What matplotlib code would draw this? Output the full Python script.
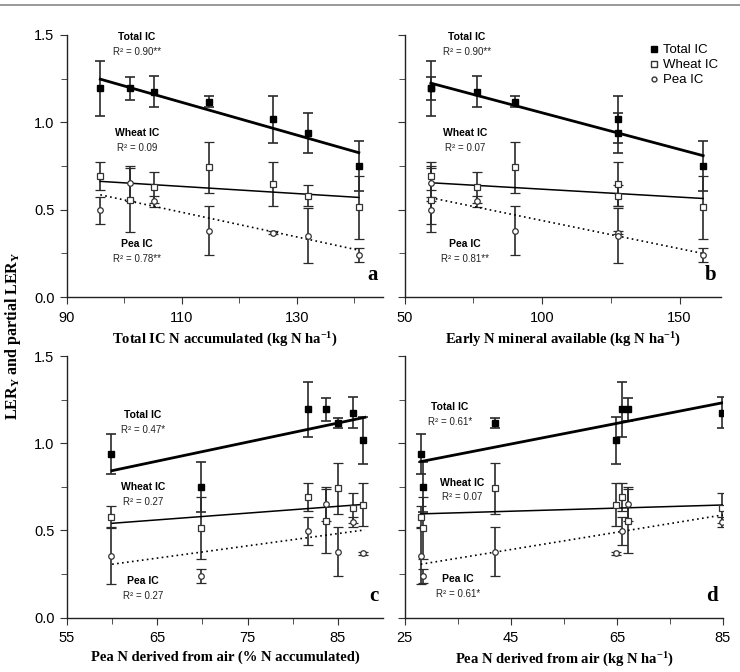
import numpy as np
import matplotlib.pyplot as plt
from matplotlib.lines import Line2D

plt.rcParams['font.family'] = ['Liberation Sans', 'DejaVu Sans']
plt.rcParams['mathtext.fontset'] = 'custom'
plt.rcParams['mathtext.rm'] = 'Liberation Serif:bold'
plt.rcParams['mathtext.bf'] = 'Liberation Serif:bold'
plt.rcParams['mathtext.it'] = 'Liberation Serif:bold:italic'

# seven intercrop treatments, same order in every panel
total = [1.195, 1.195, 1.176, 1.118, 1.017, 0.937, 0.751]
total_err = [0.157, 0.065, 0.09, 0.03, 0.135, 0.115, 0.143]
wheat = [0.694, 0.555, 0.628, 0.742, 0.648, 0.579, 0.514]
wheat_err = [0.08, 0.185, 0.088, 0.145, 0.125, 0.06, 0.18]
pea = [0.497, 0.652, 0.548, 0.379, 0.369, 0.352, 0.240]
pea_err = [0.078, 0.10, 0.03, 0.14, 0.01, 0.16, 0.04]

# x variables
x_n_accum = [95.8, 100.9, 105.1, 114.8, 125.9, 131.9, 140.8]
x_n_mineral = [59.5, 59.5, 76.2, 90.2, 127.6, 127.6, 158.6]
x_ndfa_pct = [81.7, 83.7, 86.7, 85.0, 87.8, 59.9, 69.8]
x_ndfa_kg = [66.0, 67.1, 84.8, 42.0, 64.9, 28.0, 28.4]

# regression lines (x range, then total / wheat / pea ends)
fit_a = ([95.8, 140.8], [1.247, 0.826], [0.662, 0.570], [0.585, 0.268])
fit_b = ([59.5, 158.6], [1.224, 0.809], [0.654, 0.564], [0.568, 0.249])
fit_c = ([60.0, 88.0], [0.843, 1.149], [0.541, 0.650], [0.306, 0.503])
fit_d = ([28.0, 85.0], [0.895, 1.233], [0.595, 0.646], [0.306, 0.589])

r2_a = ['0.90**', '0.09', '0.78**']
r2_b = ['0.90**', '0.07', '0.81**']
r2_c = ['0.47*', '0.27', '0.27']
r2_d = ['0.61*', '0.07', '0.61*']

xlabels = ['Total IC N accumulated (kg N ha$^{\\mathrm{-1}}$)',
           'Early N mineral available (kg N ha$^{\\mathrm{-1}}$)',
           'Pea N derived from air (% N accumulated)',
           'Pea N derived from air (kg N ha$^{\\mathrm{-1}}$)']

panels = [
    dict(x=x_n_accum, fit=fit_a, r2=r2_a, xlim=(90, 145), major=[90, 110, 130], minor=[100, 120, 140],
         letter='a', lab_x=[102.2, 102.2, 102.2], lab_y=[1.49, 0.937, 0.302], pos=[0.0905, 0.558, 0.427, 0.390]),
    dict(x=x_n_mineral, fit=fit_b, r2=r2_b, xlim=(50, 165), major=[50, 100, 150], minor=[75, 125],
         letter='b', lab_x=[72.6, 72.0, 72.0], lab_y=[1.49, 0.937, 0.302], pos=[0.547, 0.558, 0.427, 0.390]),
    dict(x=x_ndfa_pct, fit=fit_c, r2=r2_c, xlim=(55, 90), major=[55, 65, 75, 85], minor=[60, 70, 80],
         letter='c', lab_x=[63.4, 63.4, 63.4], lab_y=[1.16, 0.75, 0.21], pos=[0.0905, 0.081, 0.427, 0.389]),
    dict(x=x_ndfa_kg, fit=fit_d, r2=r2_d, xlim=(25, 85), major=[25, 45, 65, 85], minor=[35, 55, 75],
         letter='d', lab_x=[33.5, 35.8, 35.0], lab_y=[1.206, 0.774, 0.222], pos=[0.547, 0.081, 0.430, 0.389]),
]

fig = plt.figure(figsize=(7.4, 6.72), dpi=100)
fig.add_artist(Line2D([0, 1], [0.992, 0.992], color='#888888', lw=1.2))

names = ['Total IC', 'Wheat IC', 'Pea IC']
for i, p in enumerate(panels):
    ax = fig.add_axes(p['pos'])
    x = p['x']
    ebkw = dict(ls='none', ecolor='#2a2a2a', elinewidth=1.2, capsize=3.5, capthick=1.2)
    ax.errorbar(x, total, yerr=total_err, marker='s', ms=5, mfc='black', mec='black', **ebkw)
    ax.errorbar(x, wheat, yerr=wheat_err, marker='s', ms=5, mfc='white', mec='#333333', mew=0.9, **ebkw)
    ax.errorbar(x, pea, yerr=pea_err, marker='o', ms=4, mfc='white', mec='#333333', mew=0.9, **ebkw)

    fx, ft, fw, fp = p['fit']
    ax.plot(fx, ft, color='black', lw=2.0)
    ax.plot(fx, fw, color='black', lw=1.1)
    ax.plot(fx, fp, color='black', lw=1.2, ls=(0, (1, 2)))

    for k in range(3):
        ax.text(p['lab_x'][k], p['lab_y'][k], names[k], fontsize=7.5, fontweight='bold',
                ha='center', va='center')
        ax.text(p['lab_x'][k], p['lab_y'][k] - 0.085, 'R² = ' + p['r2'][k], fontsize=7,
                ha='center', va='center', color='#222222')

    ax.text(0.985, 0.045, p['letter'], transform=ax.transAxes, fontsize=15, fontweight='bold',
            family='Liberation Serif', ha='right', va='bottom')

    ax.set_xlim(*p['xlim'])
    ax.set_ylim(0, 1.5)
    ax.set_xticks(p['major'])
    ax.set_xticks(p['minor'], minor=True)
    ax.set_yticks([0.0, 0.5, 1.0, 1.5])
    ax.set_yticks([0.25, 0.75, 1.25], minor=True)
    ax.tick_params(which='both', direction='out', color='#333333', labelsize=10.5)
    ax.tick_params(axis='x', pad=5)
    ax.tick_params(axis='y', pad=4)
    ax.tick_params(which='major', length=5)
    ax.tick_params(which='minor', length=4)
    if i in (1, 3):
        ax.set_yticklabels([])
    else:
        ax.set_yticklabels(['0.0', '0.5', '1.0', '1.5'])
    for s in ['top', 'right']:
        ax.spines[s].set_visible(False)
    for s in ['left', 'bottom']:
        ax.spines[s].set_color('#222222')
        ax.spines[s].set_linewidth(1.0)
    ax.set_xlabel(xlabels[i], fontsize=10.5, fontweight='bold', family='Liberation Serif', labelpad=4)

    if i == 1:
        handles = [Line2D([], [], ls='none', marker='s', ms=4, mfc='black', mec='black'),
                   Line2D([], [], ls='none', marker='s', ms=4, mfc='white', mec='#333333'),
                   Line2D([], [], ls='none', marker='o', ms=3.5, mfc='white', mec='#333333')]
        ax.legend(handles, names, loc='upper right', bbox_to_anchor=(1.02, 1.0), frameon=False,
                  fontsize=9.5, handlelength=0.5, handletextpad=0.4, labelspacing=0.2, borderpad=0.2)

fig.text(0.018, 0.5, 'LER$_{\\mathrm{Y}}$ and partial LER$_{\\mathrm{Y}}$', rotation=90,
         fontsize=11.5, fontweight='bold', family='Liberation Serif', ha='center', va='center')

fig.savefig('out.png', dpi=100)
